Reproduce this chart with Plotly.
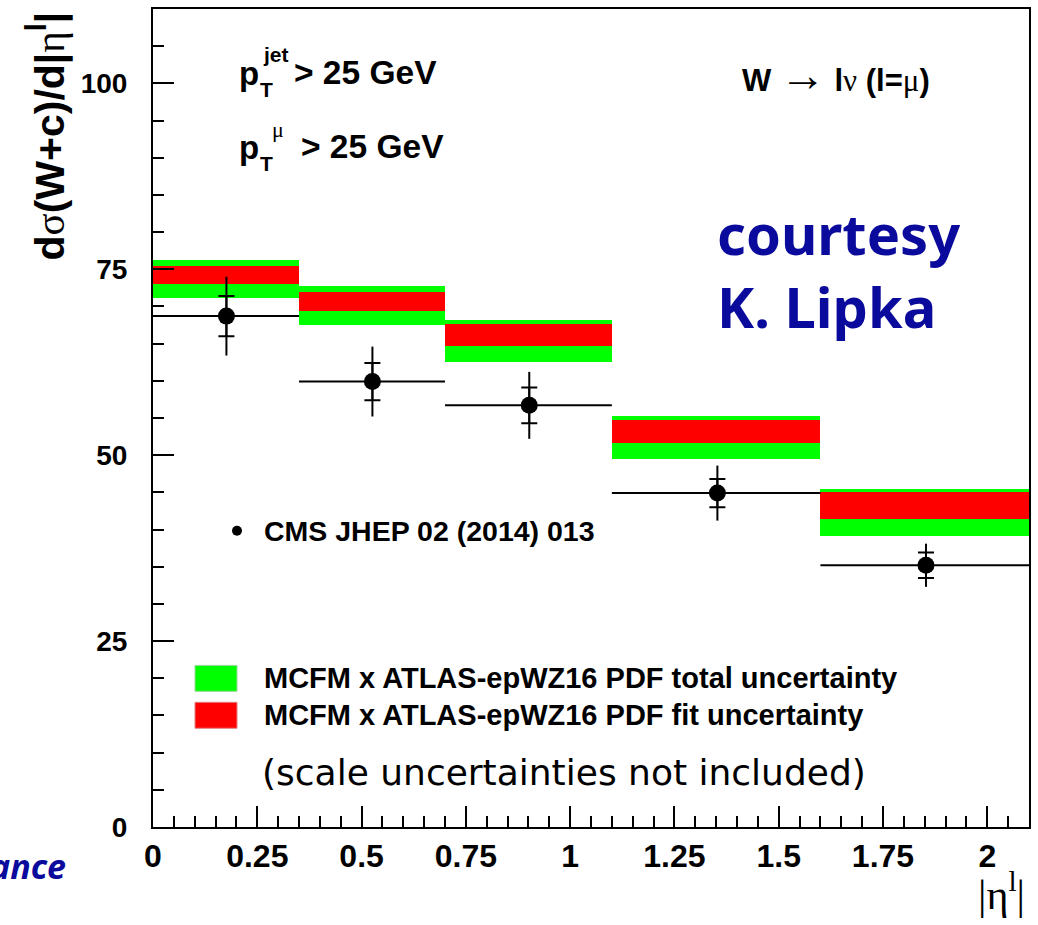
import plotly.graph_objects as go

# |eta| bin edges and data
bin_edges = [0.0, 0.35, 0.7, 1.1, 1.6, 2.1]
cms_x = [0.176, 0.526, 0.902, 1.353, 1.853]
cms_y = [68.7, 59.9, 56.7, 44.9, 35.2]
cms_stat = [2.7, 2.5, 2.4, 1.9, 1.7]
cms_total = [5.3, 4.7, 4.5, 3.7, 2.9]

# MCFM x ATLAS-epWZ16 predictions: uncertainty bands (low, high)
total_lo = [71.2, 67.5, 62.5, 49.5, 39.1]
total_hi = [76.2, 72.7, 68.2, 55.3, 45.5]
fit_lo = [73.0, 69.4, 64.7, 51.6, 41.4]
fit_hi = [75.4, 72.0, 67.6, 54.7, 45.0]

x_tickvals = [0, 0.25, 0.5, 0.75, 1, 1.25, 1.5, 1.75, 2]
x_ticktext = ["0", "0.25", "0.5", "0.75", "1", "1.25", "1.5", "1.75", "2"]
y_tickvals = [0, 25, 50, 75, 100]
y_ticktext = ["0", "25", "50", "75", "100"]

W, H = 1038, 925
L, T, R, B = 153, 7, 9, 98
PW, PH = W - L - R, H - T - B


def paper(xp, yp):
    """Pixel position on the page -> paper coordinates."""
    return (xp - L) / PW, 1 - (yp - T) / PH


centers = [(a + b) / 2 for a, b in zip(bin_edges[:-1], bin_edges[1:])]
widths = [b - a for a, b in zip(bin_edges[:-1], bin_edges[1:])]

GREEN = "#00ff00"
RED = "#ff0000"
BLUE = "#0a0a9c"
SERIF = "Liberation Serif"
SANS = "Liberation Sans"

fig = go.Figure()

fig.add_trace(go.Bar(
    x=centers, y=[h - l for l, h in zip(total_lo, total_hi)], base=total_lo,
    width=widths, marker=dict(color=GREEN, line=dict(width=0)), showlegend=False,
))
fig.add_trace(go.Bar(
    x=centers, y=[h - l for l, h in zip(fit_lo, fit_hi)], base=fit_lo,
    width=widths, marker=dict(color=RED, line=dict(width=0)), showlegend=False,
))

# statistical error with small cross-bars
fig.add_trace(go.Scatter(
    x=cms_x, y=cms_y, mode="markers", marker=dict(size=1, color="rgba(0,0,0,0)"),
    error_y=dict(type="data", array=cms_stat, width=8, thickness=2, color="black"),
    showlegend=False,
))
# total error and bin width
fig.add_trace(go.Scatter(
    x=cms_x, y=cms_y, mode="markers", marker=dict(size=17, color="black"),
    error_y=dict(type="data", array=cms_total, width=0, thickness=2, color="black"),
    error_x=dict(type="data",
                 array=[e - x for e, x in zip(bin_edges[1:], cms_x)],
                 arrayminus=[x - e for e, x in zip(bin_edges[:-1], cms_x)],
                 width=0, thickness=2, color="black"),
    showlegend=False,
))

annotations = []
shapes = []


def add_text(text, xp, yp, size, xanchor="left", yanchor="middle", color="black",
             family=SANS, weight="bold", angle=0, align="left"):
    xx, yy = paper(xp, yp)
    annotations.append(dict(
        text=text, x=xx, y=yy, xref="paper", yref="paper", showarrow=False,
        xanchor=xanchor, yanchor=yanchor, textangle=angle, align=align,
        font=dict(size=size, color=color, family=family, weight=weight),
    ))


def greek(ch, size=None):
    extra = f";font-size:{size}px" if size else ""
    return f'<span style="font-family:{SERIF};font-weight:normal{extra}">{ch}</span>'


# kinematic cuts
add_text("p", 237, 72, 33)
add_text("T", 258, 88, 21)
add_text("jet", 261, 53, 21)
add_text("> 25 GeV", 292, 71, 33.5)
add_text("p", 237, 146, 33)
add_text("T", 258, 162, 21)
add_text(greek("μ"), 270, 128, 22)
add_text("> 25 GeV", 299, 145, 33.5)

# channel
add_text("W " + greek("→", 46) + " l" + greek("ν") + " (l=" + greek("μ") + ")", 740, 74, 31)

# courtesy
add_text("courtesy<br>K. Lipka", 715, 268, 56, yanchor="middle", color=BLUE,
         family="Noto Sans")
add_text("<i>ance</i>", 68, 866, 34, xanchor="right", color=BLUE, family="Noto Sans")

# CMS entry
cx0, cy0 = paper(232, 525)
cx1, cy1 = paper(242, 535)
shapes.append(dict(type="circle", xref="paper", yref="paper", x0=cx0, y0=cy0,
                   x1=cx1, y1=cy1, fillcolor="black", line=dict(width=0)))
add_text("CMS JHEP 02 (2014) 013", 262, 530, 28.5)

# prediction entries
for (y0p, y1p, col, edge, label) in [
    (665, 691, GREEN, "#9ad69a", "MCFM x ATLAS-epWZ16 PDF total uncertainty"),
    (702, 728, RED, "#e08080", "MCFM x ATLAS-epWZ16 PDF fit uncertainty"),
]:
    bx0, by0 = paper(195, y0p)
    bx1, by1 = paper(237, y1p)
    shapes.append(dict(type="rect", xref="paper", yref="paper", x0=bx0, y0=by0,
                       x1=bx1, y1=by1, fillcolor=col, line=dict(width=1, color=edge)))
    add_text(label, 262, (y0p + y1p) / 2, 29)

add_text("(scale uncertainties not included)", 564, 772, 36, xanchor="center",
         family="DejaVu Sans", weight="normal")

# axis titles
add_text("<b>d</b>" + greek("σ") + "<b>(W+c)/d|</b>" + greek("η") + "<b><sup>l</sup>|</b>",
         47, 8, 41, xanchor="center", yanchor="top", angle=-90, weight="normal")
add_text("|" + greek("η") + "<sup>l</sup>|", 1027, 892, 42, xanchor="right",
         family=SERIF, weight="normal")

axis_common = dict(
    showline=True, linewidth=2, linecolor="black", mirror=True,
    ticks="inside", ticklen=21, tickwidth=2, tickcolor="black",
    showgrid=False, zeroline=False,
)

fig.update_layout(
    width=W, height=H,
    margin=dict(l=L, r=R, t=T, b=B),
    paper_bgcolor="white", plot_bgcolor="white",
    barmode="overlay", bargap=0,
    font=dict(family=SANS, color="black"),
    xaxis=dict(range=[0, 2.1], tickvals=x_tickvals, ticktext=x_ticktext,
               tickfont=dict(size=32, family=SANS, weight="bold"),
               minor=dict(dtick=0.05, ticks="inside", ticklen=11, tickwidth=2,
                          tickcolor="black", showgrid=False),
               **axis_common),
    yaxis=dict(range=[0, 110], tickvals=y_tickvals, ticktext=y_ticktext,
               tickfont=dict(size=28, family=SANS, weight="bold"),
               ticklabelstandoff=18,
               minor=dict(dtick=5, ticks="inside", ticklen=11, tickwidth=2,
                          tickcolor="black", showgrid=False),
               **axis_common),
    annotations=annotations,
    shapes=shapes,
)

fig.write_html("out.html")
